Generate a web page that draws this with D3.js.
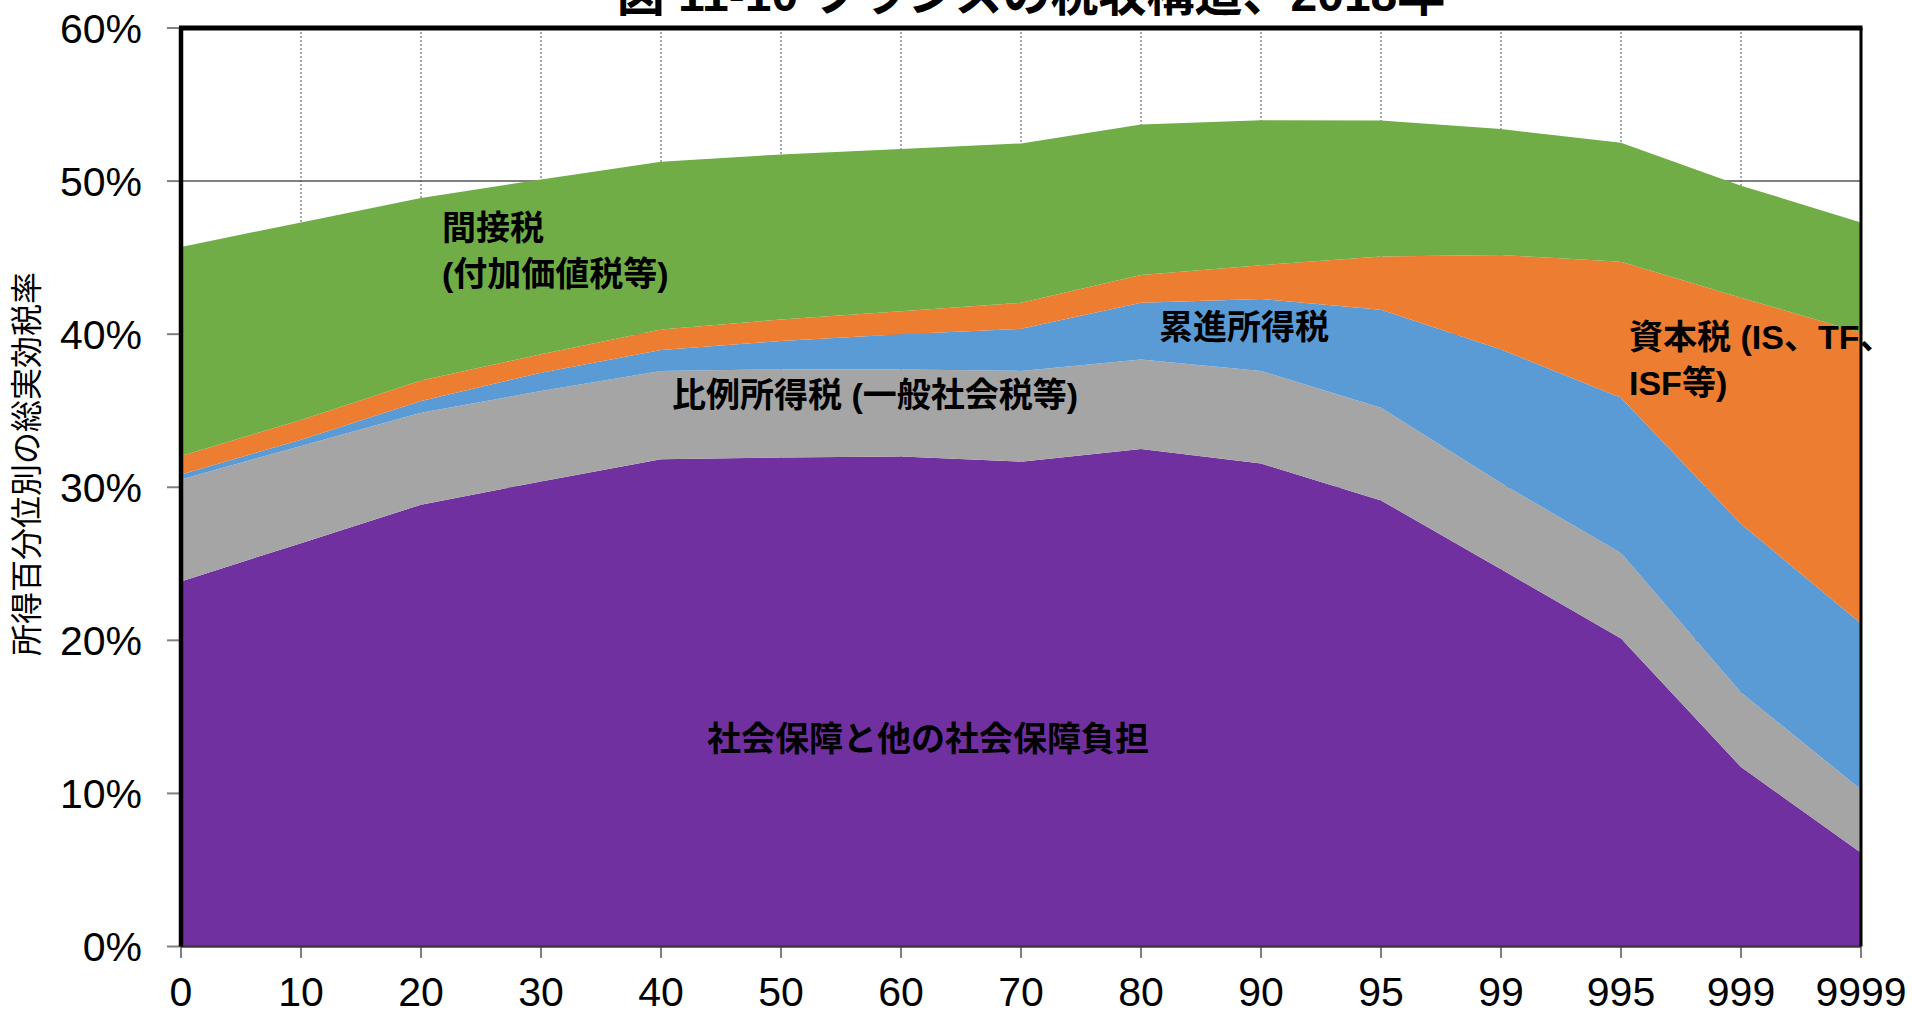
<!DOCTYPE html>
<html lang="ja">
<head>
  <meta charset="UTF-8">
  <title>フランスの税収構造</title>
  <script src="https://d3js.org/d3.v7.min.js"></script>
  <style>
    * { margin: 0; padding: 0; box-sizing: border-box; }
    body { background: #fff; overflow: hidden; }
    svg { display: block; }
    text { font-family: "Liberation Sans", Arial, "Noto Sans CJK JP", sans-serif; fill: #000; }
    .note { font-size: 34px; font-weight: bold; }
  </style>
</head>
<body>
  <svg id="chart"></svg>

  <script>
    // 所得百分位 (x軸ラベル)
    const categories = ["0", "10", "20", "30", "40", "50", "60", "70", "80", "90", "95", "99", "995", "999", "9999"];

    // 各税の実効税率 (%), 下から積み上げ
    const socialSecurity  = [23.85, 26.35, 28.86, 30.38, 31.83, 31.94, 32.01, 31.67, 32.50, 31.55, 29.14, 24.64, 20.12, 11.72, 6.12];
    const flatIncomeTax   = [6.65, 6.35, 6.01, 5.90, 5.76, 5.76, 5.69, 5.93, 5.85, 6.05, 6.06, 5.63, 5.58, 4.88, 4.13];
    const progressiveTax  = [0.34, 0.40, 0.76, 1.20, 1.37, 1.85, 2.29, 2.75, 3.70, 4.70, 6.40, 8.73, 10.15, 11.00, 10.85];
    const capitalTax      = [1.20, 1.30, 1.35, 1.20, 1.34, 1.41, 1.51, 1.70, 1.81, 2.20, 3.48, 6.17, 8.88, 14.78, 19.00];
    const indirectTax     = [13.66, 12.90, 11.92, 11.42, 10.96, 10.78, 10.60, 10.41, 9.84, 9.48, 8.88, 8.23, 7.77, 7.32, 7.20];

    const yTicks = [0, 0.1, 0.2, 0.3, 0.4, 0.5, 0.6];

    const seriesKeys = ["social", "flat", "progressive", "capital", "indirect"];
    const colors = {
      social: "#7030a0",
      flat: "#a5a5a5",
      progressive: "#5b9bd5",
      capital: "#ed7d31",
      indirect: "#70ad47"
    };

    const rows = categories.map((c, i) => ({
      cat: c,
      social: socialSecurity[i] / 100,
      flat: flatIncomeTax[i] / 100,
      progressive: progressiveTax[i] / 100,
      capital: capitalTax[i] / 100,
      indirect: indirectTax[i] / 100
    }));

    const width = 1913;
    const height = 1016;
    const plotLeft = 181, plotRight = 1861, plotTop = 28, plotBottom = 946.5;

    const svg = d3.select("#chart").attr("width", width).attr("height", height);

    const x = d3.scalePoint().domain(categories).range([plotLeft, plotRight]);
    const y = d3.scaleLinear().domain([0, 0.6]).range([plotBottom, plotTop]);

    // horizontal gridlines
    svg.append("g")
      .selectAll("line")
      .data(yTicks.slice(1))
      .enter().append("line")
      .attr("x1", plotLeft).attr("x2", plotRight)
      .attr("y1", d => y(d)).attr("y2", d => y(d))
      .attr("stroke", "#808080")
      .attr("stroke-width", 2);

    // vertical dotted gridlines
    svg.append("g")
      .selectAll("line")
      .data(categories.slice(1, -1))
      .enter().append("line")
      .attr("x1", d => x(d)).attr("x2", d => x(d))
      .attr("y1", plotTop).attr("y2", plotBottom)
      .attr("stroke", "#555")
      .attr("stroke-width", 1)
      .attr("stroke-dasharray", "2,2");

    // stacked areas
    const stack = d3.stack().keys(seriesKeys);
    const layers = stack(rows);

    const area = d3.area()
      .x(d => x(d.data.cat))
      .y0(d => y(d[0]))
      .y1(d => y(d[1]));

    svg.append("g")
      .selectAll("path")
      .data(layers)
      .enter().append("path")
      .attr("d", area)
      .attr("fill", d => colors[d.key]);

    // y axis
    const yAxis = svg.append("g");
    yAxis.selectAll("line")
      .data(yTicks)
      .enter().append("line")
      .attr("x1", 167).attr("x2", plotLeft)
      .attr("y1", d => y(d)).attr("y2", d => y(d))
      .attr("stroke", "#808080")
      .attr("stroke-width", 2);
    yAxis.selectAll("text")
      .data(yTicks)
      .enter().append("text")
      .attr("x", 142)
      .attr("y", d => y(d) + 14.5)
      .attr("text-anchor", "end")
      .style("font-size", "41px")
      .text(d => d3.format(".0%")(d));

    // x axis
    const xAxis = svg.append("g");
    xAxis.selectAll("line")
      .data(categories)
      .enter().append("line")
      .attr("x1", d => x(d)).attr("x2", d => x(d))
      .attr("y1", plotBottom).attr("y2", 958)
      .attr("stroke", "#808080")
      .attr("stroke-width", 2);
    xAxis.selectAll("text")
      .data(categories)
      .enter().append("text")
      .attr("x", d => x(d))
      .attr("y", 1006)
      .attr("text-anchor", "middle")
      .style("font-size", "41px")
      .text(d => d);

    // frame
    svg.append("line").attr("x1", plotLeft).attr("x2", plotRight).attr("y1", plotBottom).attr("y2", plotBottom)
      .attr("stroke", "#3a3a3a").attr("stroke-width", 2.5);
    svg.append("line").attr("x1", plotLeft - 2).attr("x2", plotRight + 1.5).attr("y1", plotTop).attr("y2", plotTop)
      .attr("stroke", "#000").attr("stroke-width", 5);
    svg.append("line").attr("x1", plotLeft).attr("x2", plotLeft).attr("y1", plotTop).attr("y2", plotBottom)
      .attr("stroke", "#000").attr("stroke-width", 4.5);
    svg.append("line").attr("x1", plotRight).attr("x2", plotRight).attr("y1", plotTop).attr("y2", plotBottom)
      .attr("stroke", "#000").attr("stroke-width", 3);

    // title (cut off at the top in the original)
    svg.append("text")
      .attr("x", 1031)
      .attr("y", 10.5)
      .attr("text-anchor", "middle")
      .style("font-size", "48px")
      .style("font-weight", "bold")
      .text("図 11-10 フランスの税収構造、2018年");

    // y axis title
    svg.append("text")
      .attr("transform", "translate(38,464) rotate(-90)")
      .attr("text-anchor", "middle")
      .style("font-size", "32px")
      .text("所得百分位別の総実効税率");

    // area labels
    const notes = [
      { t: "間接税", x: 442, y: 240 },
      { t: "(付加価値税等)", x: 442, y: 286 },
      { t: "比例所得税 (一般社会税等)", x: 672, y: 407 },
      { t: "累進所得税", x: 1159, y: 339 },
      { t: "資本税 (IS、TF、", x: 1629, y: 349 },
      { t: "ISF等)", x: 1629, y: 395 },
      { t: "社会保障と他の社会保障負担", x: 707, y: 751 }
    ];
    svg.append("g")
      .selectAll("text")
      .data(notes)
      .enter().append("text")
      .attr("class", "note")
      .attr("x", d => d.x)
      .attr("y", d => d.y)
      .text(d => d.t);
  </script>
</body>
</html>
